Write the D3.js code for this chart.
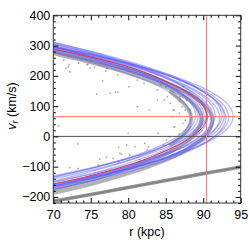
<!DOCTYPE html>
<html><head><meta charset="utf-8">
<script src="https://cdn.jsdelivr.net/npm/d3@7"></script>
<style>
html,body{margin:0;padding:0;background:#fff;}
svg{display:block;font-family:"Liberation Sans",Arial,Helvetica,sans-serif;}
</style></head>
<body>
<svg id="chart" width="249" height="249"></svg>
<script>
// ---- data ----
const xTicks = [70, 75, 80, 85, 90, 95];
const yTicks = [-200, -100, 0, 100, 200, 300, 400];
const refR = 90.45;      // red vertical reference line (kpc)
const refV = 65;         // red horizontal reference line (km/s)
const zeroV = 0;         // black horizontal line

// best-fit orbit (red)
const redTrack = [[70,288],[72,278],[74,268],[76,256],[78,244],[80,230],[82,213],[84,193],[86,170],[87,158],[88,143],[89,125],[90,100],[90.5,65],
  [90,33],[89,9],[88,-10],[87,-24],[86,-36],[84,-58],[82,-78],[80,-95],[78,-110],[76,-123],[74,-136],[72,-147],[70,-157]];

// sampled orbits (blue)
const blueTracks = [
  [[70,276],[76,238],[82,188],[84.9,155],[87.2,117],[88.1,89],[88.4,62],[88.1,37],[87.2,12],[84.9,-24],[82,-54],[76,-100],[70,-135]],
  [[70,284],[76,247],[82,200],[85.5,162],[87.8,124],[88.7,97],[89.0,70],[88.7,43],[87.8,15],[85.5,-24],[82,-62],[76,-110],[70,-148]],
  [[70,290],[76,252],[82,203],[86.1,157],[88.4,117],[89.3,88],[89.6,60],[89.3,34],[88.4,7],[86.1,-30],[82,-72],[76,-117],[70,-152]],
  [[70,292],[76,256],[82,210],[86.6,161],[88.9,123],[89.8,95],[90.1,68],[89.8,40],[88.9,11],[86.6,-29],[82,-80],[76,-127],[70,-165]],
  [[70,295],[76,259],[82,214],[87.1,159],[89.4,120],[90.3,92],[90.6,64],[90.3,37],[89.4,9],[87.1,-30],[82,-83],[76,-127],[70,-163]],
  [[70,288],[76,252],[82,209],[87.6,152],[89.9,113],[90.8,85],[91.1,58],[90.8,32],[89.9,7],[87.6,-30],[82,-84],[76,-125],[70,-158]],
  [[70,293],[76,260],[82,219],[86,184],[88.1,160],[90.4,123],[91.3,96],[91.6,70],[91.3,42],[90.4,14],[88.1,-25],[86,-51],[82,-88],[76,-132],[70,-167]],
  [[70,298],[76,263],[82,222],[86,187],[88.7,156],[91.0,117],[91.9,89],[92.2,62],[91.9,35],[91.0,8],[88.7,-30],[86,-60],[82,-95],[76,-135],[70,-169]],
  [[70,300],[76,267],[82,227],[86,194],[89.3,158],[91.6,120],[92.5,93],[92.8,66],[92.5,40],[91.6,13],[89.3,-24],[86,-59],[82,-92],[76,-131],[70,-163]],
  [[70,296],[76,264],[82,226],[86,195],[89.9,154],[92.2,117],[93.1,90],[93.4,64],[93.1,38],[92.2,13],[89.9,-24],[86,-64],[82,-95],[76,-132],[70,-163]],
  [[70,296],[76,265],[82,229],[86,199],[90.5,154],[92.8,118],[93.7,92],[94.0,66],[93.7,41],[92.8,16],[90.5,-20],[86,-64],[82,-93],[76,-129],[70,-159]],
  [[70,297],[76,257],[82,207],[85.8,163],[88.1,122],[89.0,93],[89.3,64],[89.0,39],[88.1,15],[85.8,-20],[82,-58],[76,-100],[70,-134]],
  [[70,311],[76,273],[82,226],[86.9,171],[89.2,130],[90.1,101],[90.4,72],[90.1,46],[89.2,20],[86.9,-16],[82,-64],[76,-106],[70,-140]],
  [[70,306],[76,268],[82,222],[86,181],[87.9,157],[90.2,115],[91.1,86],[91.4,56],[91.1,29],[90.2,1],[87.9,-37],[86,-60],[82,-97],[76,-140],[70,-175]],
  [[70,310],[76,275],[82,233],[86,198],[89,163],[91.3,124],[92.2,96],[92.5,68],[92.2,43],[91.3,18],[89,-18],[86,-49],[82,-81],[76,-119],[70,-150]],
  [[70,305],[76,270],[82,229],[86,195],[89.5,155],[91.8,116],[92.7,88],[93.0,60],[92.7,33],[91.8,6],[89.5,-32],[86,-70],[82,-102],[76,-142],[70,-175]],
  [[70,280],[76,245],[82,201],[86.4,156],[88.7,119],[89.6,92],[89.9,66],[89.6,42],[88.7,18],[86.4,-16],[82,-58],[76,-98],[70,-130]]
];

// dense stream of particles (gray band along the orbit)
const grayTracks = [
  [[70,282],[76,247],[82,204],[86,166],[87.7,146],[90.0,107],[90.9,79],[91.2,52],[90.9,24],[90.0,-5],[87.7,-45],[86,-67],[82,-106],[76,-151],[70,-187]],
  [[70,274],[76,238],[82,193],[86.3,148],[88.6,110],[89.5,83],[89.8,56],[89.5,28],[88.6,-1],[86.3,-41],[82,-89],[76,-137],[70,-175]],
  [[85.5,150],[87.2,113],[88.1,86],[88.4,60],[88.1,31],[87.2,2],[85.5,-30]]
];

// second gray particle band (lower right)
const lowerBand = [[70,-214],[75,-192],[80,-169],[85,-146],[90,-123],[95,-101]];

// scattered particles
const scatterPts = [
  [71.4,252],[72.2,213],[72.1,236],[73.4,242],[74.5,236],[74.9,226],[77.0,216],[78.6,203],[76.6,183],[75.8,140],[77.6,143],[78.3,146],[78.6,146],
  [72.0,230],[71.7,225],[74.6,238],[75.5,228],[77.1,225],
  [81.2,186],[82.1,175],[80.1,164],[81.2,98],[82.8,87],[83.9,120],[84.8,120],[85.2,131],[86.1,87],[85.9,65],[86.8,76],[83.9,153],[84.3,170],[85.0,164],[86.5,153],[86.9,120],[87.2,98],[87.6,87],
  [80.0,10],[78.9,-56],[79.1,-59],[82.7,-34],[82.2,-23],[84.0,10],[85.1,-12],[85.6,-1],[84.7,-29],
  [73.3,-25],[76.0,-95],[78.7,-84],[78.0,-73],[80.2,-62],[80.9,-34],[82.5,-45],[81.6,-78],[79.8,-29],
  [70.7,35],[78.7,-36],[77.1,-69],[76.2,-75],[72.2,-103],[73.3,-106],
  [87.3,164],[87.8,120],[87.6,54],[87.3,43],[88.2,87],[86.0,87],[86.2,32],[85.6,109],[86.9,131],[86.1,30],[86.8,8]
];

// ---- drawing ----
const svg = d3.select("#chart");
const L = 53.3, R = 240.7, T = 15.3, B = 203;
const x = d3.scaleLinear().domain([70, 95]).range([L, R]);
const y = d3.scaleLinear().domain([-220, 400]).range([B, T]);

svg.append("defs").append("clipPath").attr("id","clip")
  .append("rect").attr("x",L).attr("y",T).attr("width",R-L).attr("height",B-T);
const g = svg.append("g").attr("clip-path","url(#clip)");

const line = d3.line().x(d => x(d[0])).y(d => y(d[1])).curve(d3.curveCatmullRom.alpha(0.5));

// lower band
g.append("path").datum(lowerBand).attr("d", line)
  .attr("fill","none").attr("stroke","#8c8c8c").attr("stroke-width",3.6).attr("opacity",0.9);
g.append("path").datum(lowerBand).attr("d", line)
  .attr("fill","none").attr("stroke","#6f6f6f").attr("stroke-width",1.4).attr("opacity",0.6);

// scattered particles
g.selectAll("rect.pt").data(scatterPts).join("rect").attr("class","pt")
  .attr("x", d => x(d[0]) - 0.8).attr("y", d => y(d[1]) - 0.8)
  .attr("width",1.6).attr("height",1.6).attr("fill","#8a8a8a").attr("opacity",0.7);

// dense stream
g.selectAll("path.gray").data(grayTracks).join("path").attr("class","gray")
  .attr("d", line).attr("fill","none").attr("stroke","#666")
  .attr("stroke-width",3.8).attr("stroke-opacity",0.5);

// sampled orbits
g.selectAll("path.blue").data(blueTracks).join("path").attr("class","blue")
  .attr("d", line).attr("fill","none").attr("stroke","rgb(85,85,255)")
  .attr("stroke-width",1.35).attr("stroke-opacity",0.42);

// zero line
g.append("line").attr("x1",L).attr("x2",R).attr("y1",y(zeroV)).attr("y2",y(zeroV))
  .attr("stroke","#555").attr("stroke-width",1);

// reference lines
g.append("line").attr("x1",L).attr("x2",R).attr("y1",y(refV)).attr("y2",y(refV))
  .attr("stroke","rgb(255,110,110)").attr("stroke-width",1);
g.append("line").attr("x1",x(refR)).attr("x2",x(refR)).attr("y1",T).attr("y2",B)
  .attr("stroke","rgb(255,110,110)").attr("stroke-width",1);

// best-fit orbit
g.append("path").datum(redTrack).attr("d", line)
  .attr("fill","none").attr("stroke","rgb(230,50,50)").attr("stroke-width",1);

// ---- axes (ticks inside the frame) ----
const xMinor = d3.range(70, 95.01, 1).filter(v => v % 5 !== 0);
const yMinor = d3.range(-220, 401, 20).filter(v => v % 100 !== 0);
const fmt = d3.format("d");

function styleAxis(sel){
  sel.select(".domain").remove();
  sel.selectAll("line").attr("stroke","#000").attr("stroke-width",1);
  sel.selectAll("text").attr("font-size","12.5px").attr("fill","#000")
     .attr("font-family","'Liberation Sans',Arial,Helvetica,sans-serif");
}
// bottom
svg.append("g").attr("transform",`translate(0,${B})`)
  .call(d3.axisBottom(x).tickValues(xTicks).tickSize(-5).tickPadding(7).tickFormat(fmt)).call(styleAxis);
svg.append("g").attr("transform",`translate(0,${B})`)
  .call(d3.axisBottom(x).tickValues(xMinor).tickSize(-2.5).tickFormat("")).call(styleAxis);
// top
svg.append("g").attr("transform",`translate(0,${T})`)
  .call(d3.axisTop(x).tickValues(xTicks).tickSize(-5).tickFormat("")).call(styleAxis);
svg.append("g").attr("transform",`translate(0,${T})`)
  .call(d3.axisTop(x).tickValues(xMinor).tickSize(-2.5).tickFormat("")).call(styleAxis);
// left
svg.append("g").attr("transform",`translate(${L},0)`)
  .call(d3.axisLeft(y).tickValues(yTicks).tickSize(-5).tickPadding(3).tickFormat(fmt)).call(styleAxis);
svg.append("g").attr("transform",`translate(${L},0)`)
  .call(d3.axisLeft(y).tickValues(yMinor).tickSize(-2.5).tickFormat("")).call(styleAxis);
// right
svg.append("g").attr("transform",`translate(${R},0)`)
  .call(d3.axisRight(y).tickValues(yTicks).tickSize(-5).tickFormat("")).call(styleAxis);
svg.append("g").attr("transform",`translate(${R},0)`)
  .call(d3.axisRight(y).tickValues(yMinor).tickSize(-2.5).tickFormat("")).call(styleAxis);

// frame
svg.append("rect").attr("x",L).attr("y",T).attr("width",R-L).attr("height",B-T)
  .attr("fill","none").attr("stroke","#333").attr("stroke-width",1);

// axis titles
svg.append("text").attr("x",(L+R)/2).attr("y",236).attr("text-anchor","middle")
  .attr("font-size","12.5px").attr("fill","#000").text("r (kpc)");
const yt = svg.append("text").attr("transform","translate(15.5,106) rotate(-90)")
  .attr("text-anchor","middle").attr("font-size","12.5px").attr("fill","#000");
yt.append("tspan").attr("font-style","italic").text("v");
yt.append("tspan").attr("font-style","italic").attr("font-size","9px").attr("dy","2.5").text("r");
yt.append("tspan").attr("dy","-2.5").text(" (km/s)");
</script>
</body></html>
